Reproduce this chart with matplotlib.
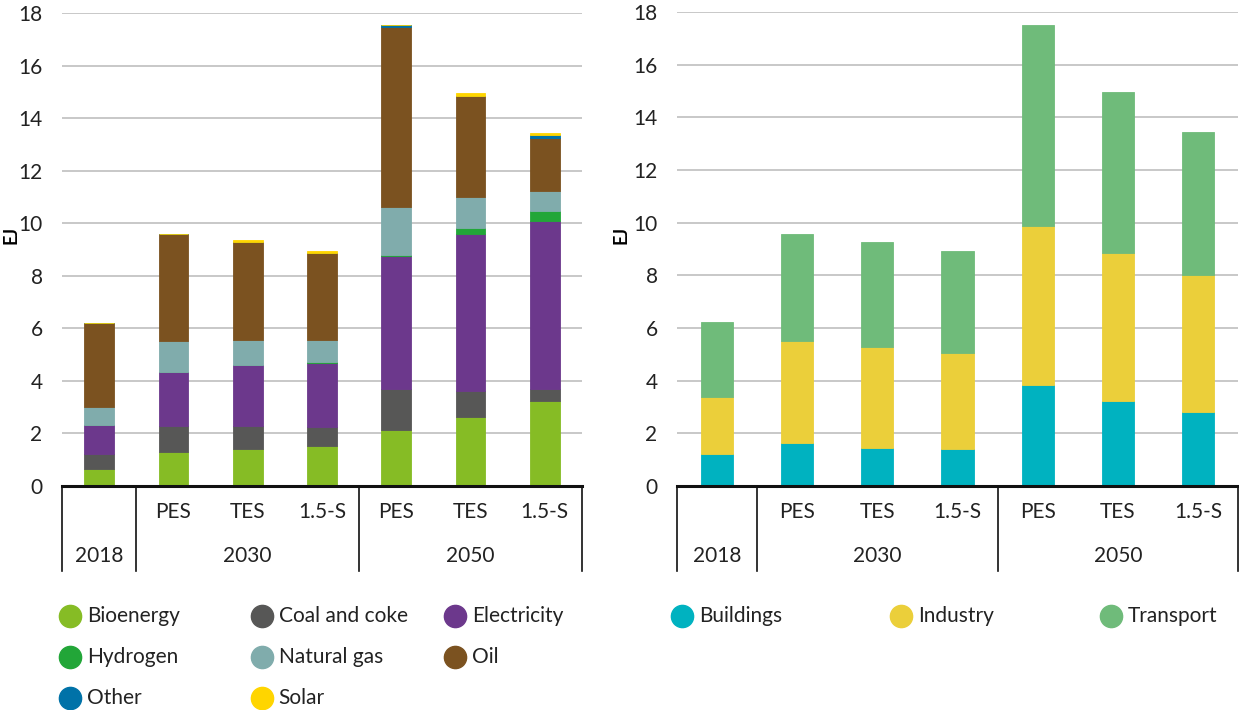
import matplotlib.pyplot as plt
import numpy as np
from matplotlib.lines import Line2D
from matplotlib.transforms import blended_transform_factory

plt.rcParams["font.family"] = ["Lato", "DejaVu Sans"]

scenarios = ["", "PES", "TES", "1.5-S", "PES", "TES", "1.5-S"]
years = ["2018", "2030", "2050"]
year_spans = [(0, 0), (1, 3), (4, 6)]

# left panel: final energy by carrier (EJ)
carriers = ["Bioenergy", "Coal and coke", "Electricity", "Hydrogen", "Natural gas", "Oil", "Other", "Solar"]
bioenergy = [0.64, 1.30, 1.41, 1.54, 2.12, 2.62, 3.23]
coal = [0.59, 1.00, 0.89, 0.72, 1.58, 0.99, 0.47]
electricity = [1.08, 2.04, 2.30, 2.42, 5.04, 5.97, 6.38]
hydrogen = [0.0, 0.0, 0.0, 0.05, 0.06, 0.24, 0.39]
natural_gas = [0.68, 1.16, 0.96, 0.83, 1.81, 1.16, 0.75]
oil = [3.22, 4.08, 3.74, 3.31, 6.86, 3.88, 2.04]
other = [0.0, 0.0, 0.0, 0.0, 0.06, 0.0, 0.11]
solar = [0.0, 0.0, 0.06, 0.06, 0.0, 0.09, 0.07]
carrier_values = [bioenergy, coal, electricity, hydrogen, natural_gas, oil, other, solar]
carrier_colors = ["#86BC25", "#575756", "#6C388C", "#22A638", "#80ACAC", "#7B5220", "#0072A8", "#FFD500"]

# right panel: final energy by sector (EJ)
sectors = ["Buildings", "Industry", "Transport"]
buildings = [1.23, 1.63, 1.45, 1.39, 3.85, 3.24, 2.82]
industry = [2.15, 3.89, 3.84, 3.67, 6.04, 5.62, 5.21]
transport = [2.85, 4.05, 3.99, 3.86, 7.63, 6.09, 5.43]
sector_values = [buildings, industry, transport]
sector_colors = ["#00B2C0", "#EBCF3A", "#6FBB7A"]

FS = 15


def draw_panel(ax, values, colors, label_x):
    x = np.arange(len(scenarios))
    bottom = np.zeros(len(scenarios))
    for vals, col in zip(values, colors):
        vals = np.array(vals)
        ax.bar(x, vals, bottom=bottom, width=0.4, color=col, edgecolor=col, linewidth=0.6, zorder=3)
        bottom += vals
    ax.set_xlim(-0.5, len(scenarios) - 0.5)
    ax.set_ylim(0, 18)
    ax.set_yticks(np.arange(0, 19, 2))
    ax.tick_params(axis="y", length=0, labelsize=FS, pad=14, colors="#222222")
    ax.set_xticks([])
    ax.grid(axis="y", color="#C4C4C4", linewidth=1.3, zorder=0)
    for s in ["left", "right", "top"]:
        ax.spines[s].set_visible(False)
    ax.spines["bottom"].set_linewidth(2.2)
    ax.spines["bottom"].set_color("#111111")
    ax.spines["bottom"].set_zorder(5)
    ax.set_ylabel("EJ", fontsize=13, fontweight="bold")
    ax.yaxis.set_label_coords(label_x, 0.53)

    tr = blended_transform_factory(ax.transData, ax.transAxes)
    for xv in [-0.5, 0.5, 3.5, 6.5]:
        ax.add_line(Line2D([xv, xv], [0, -0.18], transform=tr, color="#111111", linewidth=1.2, clip_on=False))
    for i, s in enumerate(scenarios):
        ax.text(i, -0.055, s, transform=tr, ha="center", va="center", fontsize=FS, color="#222222")
    for yr, (a, b) in zip(years, year_spans):
        ax.text((a + b) / 2, -0.148, yr, transform=tr, ha="center", va="center", fontsize=FS, color="#222222")


fig = plt.figure(figsize=(12.39, 7.10), dpi=100)
ax1 = fig.add_axes([0.050, 0.3155, 0.4197, 0.6662])
ax2 = fig.add_axes([0.5464, 0.3155, 0.4528, 0.6676])
draw_panel(ax1, carrier_values, carrier_colors, -0.082)
draw_panel(ax2, sector_values, sector_colors, -0.085)


def legend_item(x, y, label, color):
    fig.add_artist(Line2D([x], [y], marker="o", markersize=16, color=color, linestyle="none",
                          transform=fig.transFigure))
    fig.text(x + 0.0135, y, label, ha="left", va="center", fontsize=FS, color="#222222")


left_cols = [70 / 1239, 262 / 1239, 455 / 1239]
left_rows = [1 - 616 / 710, 1 - 657 / 710, 1 - 698 / 710]
for k, (name, col) in enumerate(zip(carriers, carrier_colors)):
    legend_item(left_cols[k % 3], left_rows[k // 3], name, col)

right_cols = [682 / 1239, 901 / 1239, 1111 / 1239]
for k, (name, col) in enumerate(zip(sectors, sector_colors)):
    legend_item(right_cols[k], 1 - 616 / 710, name, col)

fig.savefig("out.png", dpi=100)
